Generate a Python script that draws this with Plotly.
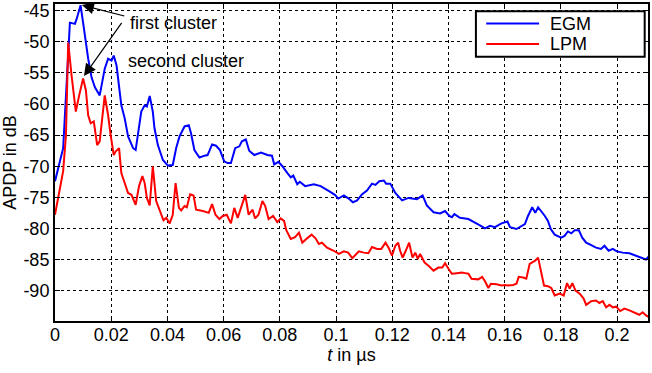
import plotly.graph_objects as go

# ---- data ----
egm_t = [0.0000, 0.0029, 0.0053, 0.0071, 0.0077, 0.0091, 0.0100, 0.0118, 0.0130, 0.0142,
         0.0159, 0.0177, 0.0189, 0.0201, 0.0209, 0.0219, 0.0236, 0.0248, 0.0260, 0.0278,
         0.0287, 0.0295, 0.0307, 0.0319, 0.0327, 0.0337, 0.0348, 0.0354, 0.0366, 0.0384,
         0.0402, 0.0419, 0.0431, 0.0443, 0.0461, 0.0476, 0.0484, 0.0496, 0.0514, 0.0532,
         0.0543, 0.0559, 0.0573, 0.0587, 0.0602, 0.0614, 0.0626, 0.0641, 0.0656, 0.0665,
         0.0679, 0.0691, 0.0709, 0.0733, 0.0756, 0.0772, 0.0780, 0.0795, 0.0809, 0.0827,
         0.0839, 0.0848, 0.0862, 0.0871, 0.0890, 0.0921, 0.0945, 0.0975, 0.0996, 0.1008,
         0.1028, 0.1045, 0.1060, 0.1075, 0.1093, 0.1110, 0.1128, 0.1140, 0.1154, 0.1170,
         0.1178, 0.1193, 0.1211, 0.1235, 0.1258, 0.1288, 0.1308, 0.1323, 0.1347, 0.1370,
         0.1388, 0.1403, 0.1412, 0.1421, 0.1441, 0.1471, 0.1494, 0.1512, 0.1530, 0.1548,
         0.1565, 0.1589, 0.1610, 0.1619, 0.1642, 0.1654, 0.1672, 0.1683, 0.1698, 0.1709,
         0.1719, 0.1743, 0.1754, 0.1764, 0.1778, 0.1801, 0.1813, 0.1825, 0.1837, 0.1849,
         0.1864, 0.1876, 0.1890, 0.1908, 0.1925, 0.1943, 0.1955, 0.1970, 0.1985, 0.1999,
         0.2020, 0.2044, 0.2067, 0.2091, 0.2103, 0.2115]
egm_db = [-72.4, -67.1, -46.9, -47.1, -46.3, -44.1, -46.9, -52.7, -55.7, -57.3,
          -58.6, -54.3, -52.7, -53.0, -52.2, -53.8, -60.2, -62.3, -65.2, -67.1,
          -67.4, -65.0, -61.2, -60.2, -60.4, -58.7, -61.2, -63.9, -66.6, -69.0,
          -69.9, -69.8, -67.1, -65.2, -63.6, -63.4, -64.7, -67.4, -68.6, -68.3,
          -68.2, -66.5, -66.7, -67.4, -69.2, -69.5, -69.5, -67.1, -66.8, -66.0,
          -65.7, -67.5, -68.2, -67.8, -68.2, -68.3, -69.7, -69.3, -70.0, -71.1,
          -71.8, -71.5, -72.9, -72.5, -73.2, -72.9, -73.2, -74.0, -74.6, -75.2,
          -74.7, -75.2, -75.8, -75.5, -74.5, -73.9, -72.8, -73.0, -72.4, -72.3,
          -72.8, -72.8, -74.3, -75.5, -75.1, -75.3, -74.7, -76.3, -77.4, -77.6,
          -77.2, -78.0, -78.2, -77.7, -78.3, -78.5, -79.0, -79.5, -80.0, -79.6,
          -79.8, -79.2, -78.9, -79.8, -80.1, -79.8, -79.3, -78.0, -76.6, -77.5,
          -76.6, -78.0, -78.8, -80.1, -81.0, -81.5, -81.2, -80.5, -80.8, -80.3,
          -80.3, -81.5, -82.3, -82.7, -83.1, -83.3, -82.8, -83.6, -83.3, -83.7,
          -83.9, -84.0, -84.4, -84.9, -85.0, -84.4]

lpm_t = [0.0000, 0.0012, 0.0029, 0.0039, 0.0047, 0.0059, 0.0074, 0.0086, 0.0100, 0.0110,
         0.0118, 0.0127, 0.0138, 0.0150, 0.0159, 0.0177, 0.0189, 0.0198, 0.0209, 0.0216,
         0.0228, 0.0236, 0.0248, 0.0260, 0.0272, 0.0287, 0.0299, 0.0311, 0.0319, 0.0327,
         0.0337, 0.0348, 0.0360, 0.0372, 0.0386, 0.0396, 0.0408, 0.0419, 0.0429, 0.0441,
         0.0449, 0.0461, 0.0469, 0.0481, 0.0493, 0.0502, 0.0526, 0.0547, 0.0559, 0.0571,
         0.0585, 0.0597, 0.0611, 0.0626, 0.0638, 0.0650, 0.0665, 0.0677, 0.0689, 0.0703,
         0.0712, 0.0724, 0.0738, 0.0748, 0.0760, 0.0776, 0.0791, 0.0803, 0.0815, 0.0823,
         0.0839, 0.0854, 0.0868, 0.0880, 0.0894, 0.0913, 0.0927, 0.0939, 0.0950, 0.0968,
         0.0992, 0.1010, 0.1028, 0.1043, 0.1058, 0.1081, 0.1099, 0.1115, 0.1128, 0.1146,
         0.1161, 0.1176, 0.1187, 0.1199, 0.1211, 0.1221, 0.1228, 0.1237, 0.1248, 0.1260,
         0.1272, 0.1282, 0.1291, 0.1299, 0.1315, 0.1329, 0.1347, 0.1364, 0.1378, 0.1388,
         0.1400, 0.1412, 0.1430, 0.1447, 0.1459, 0.1471, 0.1482, 0.1506, 0.1520, 0.1530,
         0.1542, 0.1551, 0.1571, 0.1589, 0.1601, 0.1610, 0.1630, 0.1642, 0.1650, 0.1666,
         0.1677, 0.1689, 0.1701, 0.1709, 0.1719, 0.1731, 0.1740, 0.1754, 0.1766, 0.1778,
         0.1796, 0.1810, 0.1822, 0.1831, 0.1841, 0.1852, 0.1867, 0.1881, 0.1890, 0.1908,
         0.1925, 0.1937, 0.1949, 0.1961, 0.1973, 0.1985, 0.1997, 0.2011, 0.2026, 0.2044,
         0.2062, 0.2079, 0.2091, 0.2103, 0.2115]
lpm_db = [-77.8, -75.1, -70.8, -65.0, -50.1, -55.4, -61.2, -58.6, -55.9, -57.8,
          -61.8, -63.1, -62.8, -66.6, -66.0, -58.6, -61.8, -65.0, -68.2, -67.6,
          -67.1, -71.1, -72.7, -74.3, -74.6, -76.2, -73.2, -71.6, -72.7, -75.1,
          -76.3, -70.0, -75.6, -77.2, -78.7, -78.3, -79.2, -77.8, -72.7, -76.7,
          -77.1, -76.4, -76.6, -74.5, -74.7, -77.0, -77.2, -77.5, -76.1, -77.8,
          -78.5, -78.0, -77.8, -79.2, -76.7, -78.3, -76.4, -74.6, -77.8, -77.0,
          -78.4, -77.8, -75.6, -76.4, -78.5, -78.0, -79.0, -78.4, -78.8, -80.3,
          -81.7, -81.4, -80.7, -82.3, -81.7, -81.0, -81.6, -82.5, -82.3, -83.1,
          -83.6, -84.1, -83.7, -83.9, -84.8, -83.7, -83.9, -84.0, -83.0, -83.3,
          -83.3, -82.3, -83.1, -84.4, -82.8, -82.3, -83.6, -84.7, -83.6, -82.3,
          -84.7, -83.9, -84.9, -84.1, -85.5, -86.0, -86.8, -86.3, -86.3, -85.6,
          -86.5, -87.3, -87.2, -87.1, -87.2, -87.3, -88.1, -88.2, -87.8, -88.5,
          -89.6, -88.9, -89.0, -89.2, -89.1, -89.2, -89.1, -88.9, -87.8, -87.9,
          -88.1, -85.7, -85.4, -85.2, -84.7, -87.3, -89.2, -89.3, -89.6, -90.8,
          -90.5, -90.8, -88.8, -89.7, -88.8, -90.0, -90.5, -91.3, -92.3, -91.7,
          -91.6, -92.0, -91.7, -92.7, -92.3, -92.7, -92.6, -93.3, -92.9, -93.2,
          -93.5, -93.9, -93.5, -94.0, -94.3]

series_names = ["EGM", "LPM"]
series_colors = ["#0000ff", "#ff0000"]

x_tickvals = [0, 0.02, 0.04, 0.06, 0.08, 0.1, 0.12, 0.14, 0.16, 0.18, 0.2]
x_ticktext = ["0", "0.02", "0.04", "0.06", "0.08", "0.1", "0.12", "0.14", "0.16", "0.18", "0.2"]
y_tickvals = [-45, -50, -55, -60, -65, -70, -75, -80, -85, -90]
y_ticktext = ["-45", "-50", "-55", "-60", "-65", "-70", "-75", "-80", "-85", "-90"]

FONT = "Liberation Sans, Arial, sans-serif"
FS = 18

fig = go.Figure()
fig.add_trace(go.Scatter(x=egm_t, y=egm_db, mode="lines", name=series_names[0],
                         line=dict(color=series_colors[0], width=2), showlegend=False))
fig.add_trace(go.Scatter(x=lpm_t, y=lpm_db, mode="lines", name=series_names[1],
                         line=dict(color=series_colors[1], width=2), showlegend=False))

axis_common = dict(showline=True, linecolor="black", linewidth=2, mirror="ticks",
                   ticks="inside", ticklen=5, tickwidth=1, tickcolor="black",
                   showgrid=True, gridcolor="black", gridwidth=1, griddash="dot",
                   zeroline=False, tickfont=dict(family=FONT, size=FS, color="black"))

fig.update_xaxes(range=[0, 0.211], tickvals=x_tickvals, ticktext=x_ticktext,
                 ticklabelstandoff=-4,
                 title=dict(text="<i>t</i> in µs", font=dict(family=FONT, size=FS, color="black"),
                            standoff=4),
                 **axis_common)
fig.update_yaxes(range=[-94.9, -43.9], tickvals=y_tickvals, ticktext=y_ticktext,
                 title=dict(text="APDP in dB", font=dict(family=FONT, size=FS, color="black"),
                            standoff=3),
                 **axis_common)

# annotations: arrows and labels
fig.add_annotation(x=0.00957, y=-44.07, ax=0.0252, ay=-45.9, axref="x", ayref="y",
                   xref="x", yref="y", text="", showarrow=True, arrowhead=2,
                   arrowsize=2.0, arrowwidth=1.2, arrowcolor="black")
fig.add_annotation(x=0.0103, y=-55.5, ax=0.0241, ay=-46.7, axref="x", ayref="y",
                   xref="x", yref="y", text="", showarrow=True, arrowhead=2,
                   arrowsize=2.0, arrowwidth=1.2, arrowcolor="black")
fig.add_annotation(x=0.0259, y=-46.9, xref="x", yref="y", text="first cluster",
                   showarrow=False, xanchor="left", yanchor="middle",
                   font=dict(family=FONT, size=FS, color="black"))
fig.add_annotation(x=0.0252, y=-53.0, xref="x", yref="y", text="second cluster",
                   showarrow=False, xanchor="left", yanchor="middle",
                   font=dict(family=FONT, size=FS, color="black"))

# legend box drawn in paper coordinates (MATLAB-style)
box_x0, box_x1, box_y0, box_y1 = 0.7098, 0.9944, 0.8339, 0.9771
line_x0, line_x1 = 0.7272, 0.8163
text_x = 0.8319
item_y = [0.9382, 0.8737]
fig.add_shape(type="rect", xref="paper", yref="paper", x0=box_x0, x1=box_x1,
              y0=box_y0, y1=box_y1, line=dict(color="black", width=2),
              fillcolor="white", layer="above")
for name, color, yy in zip(series_names, series_colors, item_y):
    fig.add_shape(type="line", xref="paper", yref="paper", x0=line_x0, x1=line_x1,
                  y0=yy, y1=yy, line=dict(color=color, width=2), layer="above")
    fig.add_annotation(x=text_x, y=yy, xref="paper", yref="paper", text=name,
                       showarrow=False, xanchor="left", yanchor="middle",
                       font=dict(family=FONT, size=FS, color="black"))

fig.update_layout(
    width=652, height=373,
    margin=dict(l=55, r=2, t=2, b=52),
    paper_bgcolor="white", plot_bgcolor="white",
    font=dict(family=FONT, size=FS, color="black"),
    showlegend=False,
)

fig.write_html("out.html")
